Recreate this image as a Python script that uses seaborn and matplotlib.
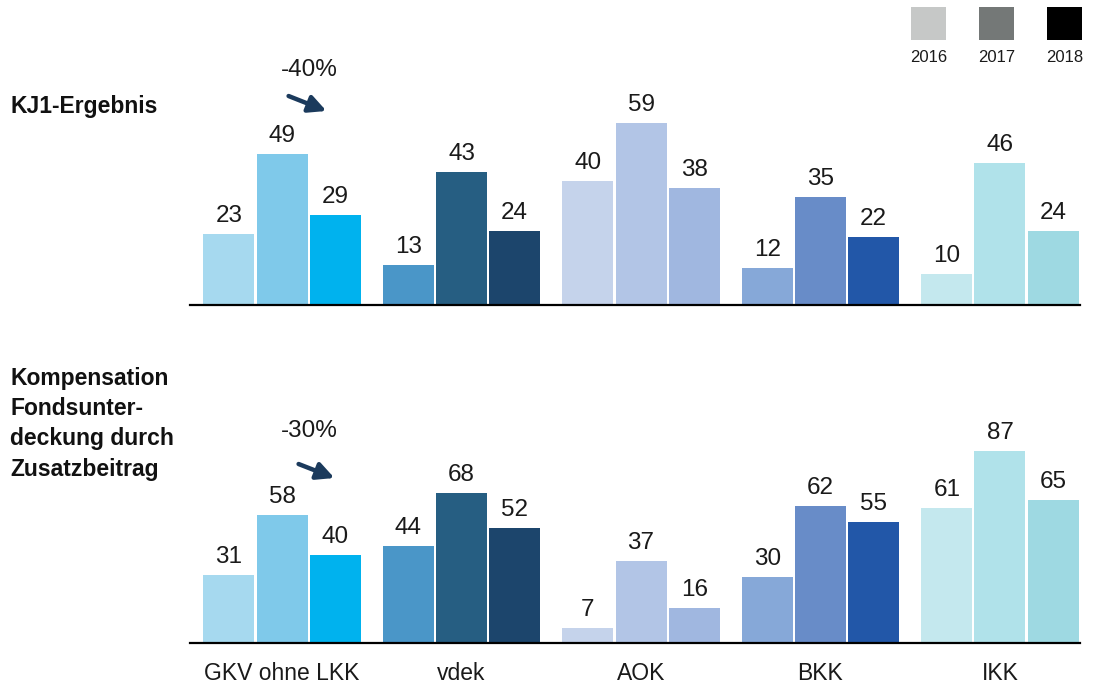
import matplotlib
matplotlib.use("Agg")
import matplotlib.pyplot as plt
import seaborn as sns
import pandas as pd
from matplotlib.patches import Rectangle, FancyArrowPatch

# ---- data ----
categories = ["GKV ohne LKK", "vdek", "AOK", "BKK", "IKK"]
years = ["2016", "2017", "2018"]
kj1 = {"2016": [23, 13, 40, 12, 10],
       "2017": [49, 43, 59, 35, 46],
       "2018": [29, 24, 38, 22, 24]}
komp = {"2016": [31, 44, 7, 30, 61],
        "2017": [58, 68, 37, 62, 87],
        "2018": [40, 52, 16, 55, 65]}
panel_titles = ["KJ1-Ergebnis", "Kompensation\nFondsunter-\ndeckung durch\nZusatzbeitrag"]
changes = ["-40%", "-30%"]
legend_colors = ["#C6C8C7", "#747877", "#000000"]
bar_colors = [
    ["#A6D9EF", "#7FC9EA", "#00B2EE"],
    ["#4A96C8", "#265E82", "#1C456C"],
    ["#C5D3EB", "#B2C5E6", "#A0B7E0"],
    ["#86A8D8", "#688CC8", "#2257A8"],
    ["#C4E8EE", "#B0E2EA", "#9ED9E2"],
]

sns.set_theme(style="white")
plt.rcParams["font.family"] = ["Liberation Sans", "DejaVu Sans"]

W, H = 1096, 686
fig = plt.figure(figsize=(W / 100, H / 100), dpi=100)

def long_df(d):
    rows = []
    for y in years:
        for c, v in zip(categories, d[y]):
            rows.append({"cat": c, "year": y, "val": v})
    return pd.DataFrame(rows)

ax_left = 190 / W
ax_width = 890 / W
panels = [
    (kj1, 305, 3.09, 65),
    (komp, 643, 2.206, 100),
]
for i, (d, base_px, scale, ymax) in enumerate(panels):
    bottom = (H - base_px) / H
    height = ymax * scale / H
    ax = fig.add_axes([ax_left, bottom, ax_width, height])
    df = long_df(d)
    sns.barplot(data=df, x="cat", y="val", hue="year", ax=ax,
                width=0.888, gap=0.04, legend=False, errorbar=None,
                order=categories, hue_order=years)
    for j, cont in enumerate(ax.containers):
        for k, bar in enumerate(cont):
            bar.set_facecolor(bar_colors[k][j])
            bar.set_edgecolor("none")
        ax.bar_label(cont, padding=5, fontsize=17.5, color="#1a1a1a")
    ax.set_ylim(0, ymax)
    ax.set_xlim(-0.513, 4.446)
    ax.set_xlabel("")
    ax.set_ylabel("")
    ax.set_yticks([])
    for s in ["top", "right", "left"]:
        ax.spines[s].set_visible(False)
    ax.spines["bottom"].set_color("black")
    ax.spines["bottom"].set_linewidth(1.6)
    if i == 0:
        ax.set_xticks([])
    else:
        ax.tick_params(axis="x", length=0, pad=14, labelsize=16.5, colors="#1a1a1a")

# panel titles
fig.text(10 / W, 1 - 107 / H, panel_titles[0], fontsize=16.5, fontweight="bold",
         va="center", ha="left", color="#111111")
fig.text(10 / W, 1 - 367 / H, panel_titles[1], fontsize=16.5, fontweight="bold",
         va="top", ha="left", color="#111111", linespacing=1.4)

# change annotations
for txt, ty, a0, a1 in [(changes[0], 70, (286, 95), (329, 112)),
                        (changes[1], 431, (296, 463), (337, 479))]:
    fig.text(309 / W, 1 - ty / H, txt, fontsize=17.5, ha="center", va="center",
             color="#1a1a1a")
    arr = FancyArrowPatch((a0[0] / W, 1 - a0[1] / H), (a1[0] / W, 1 - a1[1] / H),
                          transform=fig.transFigure, arrowstyle="-|>",
                          mutation_scale=26, lw=3.2, color="#1B3A5C")
    fig.add_artist(arr)

# legend
for k, (yr, col) in enumerate(zip(years, legend_colors)):
    x0 = 911 + k * 68
    fig.add_artist(Rectangle((x0 / W, 1 - 40 / H), 35 / W, 33 / H,
                             transform=fig.transFigure, facecolor=col,
                             edgecolor="none"))
    fig.text((x0 + 17.5) / W, 1 - 57 / H, yr, fontsize=12, ha="center",
             va="center", color="#1a1a1a")

fig.savefig("out.png", dpi=100)
